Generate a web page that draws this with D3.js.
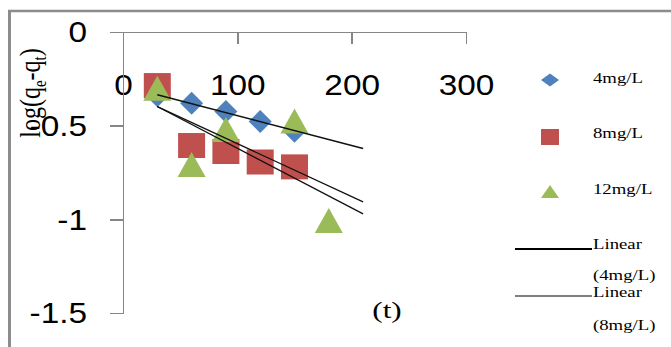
<!DOCTYPE html>
<html>
<head>
<meta charset="utf-8">
<script src="https://cdn.jsdelivr.net/npm/d3@7"></script>
<style>
  body { margin: 0; background: #fff; }
  .axis path, .axis line { stroke: #868686; stroke-width: 1.75; shape-rendering: crispEdges; }
  .axis text { font-family: "Liberation Sans", Arial, sans-serif; font-size: 29px; fill: #000; }
  .leg { font-family: "Liberation Serif", "Times New Roman", serif; font-size: 15px; fill: #000; }
</style>
</head>
<body>
<div class="chart"></div>
<script>
(function() {
  // data
  var times4 = [30, 60, 90, 120, 150];
  var logs4  = [-0.34, -0.38, -0.425, -0.478, -0.53];
  var times8 = [30, 60, 90, 120, 150];
  var logs8  = [-0.286, -0.606, -0.638, -0.694, -0.72];
  var times12 = [30, 60, 90, 150, 180];
  var logs12  = [-0.30, -0.707, -0.52, -0.475, -1.006];
  var xTicks = [0, 100, 200, 300];
  var yTicks = [0, -0.5, -1, -1.5];
  var seriesNames = ["4mg/L", "8mg/L", "12mg/L"];
  var trendNames = ["Linear", "(4mg/L)", "Linear", "(8mg/L)"];
  var trendEnd = 210;

  var width = 671, height = 347;
  var colors = ["#4F81BD", "#C0504D", "#9BBB59"];

  var svg = d3.select(".chart").append("svg")
    .attr("width", width)
    .attr("height", height);

  // outer frame (only top and left edges are in view)
  svg.append("line").attr("x1", 8).attr("x2", width).attr("y1", 11).attr("y2", 11)
    .attr("stroke", "#8c8c8c").attr("stroke-width", 2.5);
  svg.append("line").attr("x1", 9.5).attr("x2", 9.5).attr("y1", 10).attr("y2", height)
    .attr("stroke", "#8c8c8c").attr("stroke-width", 3);

  var x = d3.scaleLinear().domain([0, 300]).range([123, 466]);
  var y = d3.scaleLinear().domain([-1.5, 0]).range([313, 32]);

  // x axis sits at y = 0, labels pushed well below
  var gx = svg.append("g").attr("class", "axis")
    .attr("transform", "translate(0," + y(0) + ")")
    .call(d3.axisBottom(x).tickValues(xTicks).tickSize(12).tickSizeOuter(0).tickPadding(30).tickFormat(d3.format("d")));
  gx.selectAll("text").attr("transform", "scale(1.15,1)");

  var gy = svg.append("g").attr("class", "axis")
    .attr("transform", "translate(" + x(0) + ",0)")
    .call(d3.axisLeft(y).tickValues(yTicks).tickSize(13).tickSizeOuter(0).tickFormat(function(d) { return String(d); }));
  gy.selectAll("text")
    .attr("x", 0)
    .attr("dy", "0.34em")
    .attr("transform", "translate(-36,0) scale(1.15,1)");

  // y title
  var yt = svg.append("text")
    .attr("class", "leg")
    .style("font-size", "24px")
    .attr("text-anchor", "middle")
    .attr("transform", "translate(40,93) rotate(-90) scale(1,1.25)");
  yt.append("tspan").text("log(q");
  yt.append("tspan").attr("dy", 5).style("font-size", "15px").text("e");
  yt.append("tspan").attr("dy", -5).text("-q");
  yt.append("tspan").attr("dy", 5).style("font-size", "15px").text("t");
  yt.append("tspan").attr("dy", -5).text(")");

  // x title
  svg.append("text")
    .attr("class", "leg")
    .style("font-size", "24px")
    .attr("text-anchor", "middle")
    .attr("transform", "translate(387,318) scale(1.3,1)")
    .text("(t)");

  function pts(xs, ys) {
    return xs.map(function(d, i) { return {t: d, v: ys[i]}; });
  }
  var s4 = pts(times4, logs4), s8 = pts(times8, logs8), s12 = pts(times12, logs12);

  function diamond(cx, cy, w, h) {
    return "M" + cx + "," + (cy - h / 2) + "L" + (cx + w / 2) + "," + cy +
      "L" + cx + "," + (cy + h / 2) + "L" + (cx - w / 2) + "," + cy + "Z";
  }
  function triangle(cx, cy, w, h) {
    return "M" + cx + "," + (cy - h / 2) + "L" + (cx + w / 2) + "," + (cy + h / 2) +
      "L" + (cx - w / 2) + "," + (cy + h / 2) + "Z";
  }

  svg.append("g").selectAll("path").data(s4).enter().append("path")
    .attr("d", function(d) { return diamond(x(d.t), y(d.v), 23, 23); })
    .attr("fill", colors[0]);
  svg.append("g").selectAll("rect").data(s8).enter().append("rect")
    .attr("x", function(d) { return x(d.t) - 13.5; })
    .attr("y", function(d) { return y(d.v) - 12.5; })
    .attr("width", 27).attr("height", 25)
    .attr("fill", colors[1]);
  svg.append("g").selectAll("path").data(s12).enter().append("path")
    .attr("d", function(d) { return triangle(x(d.t), y(d.v), 28, 25); })
    .attr("fill", colors[2]);

  // least-squares trendlines, forecast out to trendEnd
  function fit(data) {
    var mx = d3.mean(data, function(d) { return d.t; });
    var my = d3.mean(data, function(d) { return d.v; });
    var sxy = d3.sum(data, function(d) { return (d.t - mx) * (d.v - my); });
    var sxx = d3.sum(data, function(d) { return (d.t - mx) * (d.t - mx); });
    var b = sxy / sxx, a = my - b * mx;
    var t0 = d3.min(data, function(d) { return d.t; });
    return [{t: t0, v: a + b * t0}, {t: trendEnd, v: a + b * trendEnd}];
  }
  var line = d3.line().x(function(d) { return x(d.t); }).y(function(d) { return y(d.v); });
  [[s4, 1.6], [s8, 1.3], [s12, 1.3]].forEach(function(s) {
    svg.append("path")
      .attr("d", line(fit(s[0])))
      .attr("fill", "none")
      .attr("stroke", "#111")
      .attr("stroke-width", s[1]);
  });

  // legend
  var lx = 550, tx = 593;
  svg.append("path").attr("d", diamond(lx, 80, 18, 13)).attr("fill", colors[0]);
  svg.append("rect").attr("x", lx - 9).attr("y", 129).attr("width", 18).attr("height", 16).attr("fill", colors[1]);
  svg.append("path").attr("d", triangle(lx, 191.5, 18, 13)).attr("fill", colors[2]);
  var legY = [83, 138, 194];
  seriesNames.forEach(function(n, i) {
    svg.append("text").attr("class", "leg")
      .attr("transform", "translate(" + tx + "," + legY[i] + ") scale(1.25,1)")
      .text(n);
  });
  svg.append("line").attr("x1", 515).attr("x2", 592).attr("y1", 249).attr("y2", 249)
    .attr("stroke", "#000").attr("stroke-width", 2);
  svg.append("line").attr("x1", 515).attr("x2", 592).attr("y1", 296).attr("y2", 296)
    .attr("stroke", "#000").attr("stroke-width", 1.2);
  var trendY = [249, 280, 297, 330];
  trendNames.forEach(function(n, i) {
    svg.append("text").attr("class", "leg")
      .attr("transform", "translate(" + tx + "," + trendY[i] + ") scale(1.25,1)")
      .text(n);
  });
})();
</script>
</body>
</html>
